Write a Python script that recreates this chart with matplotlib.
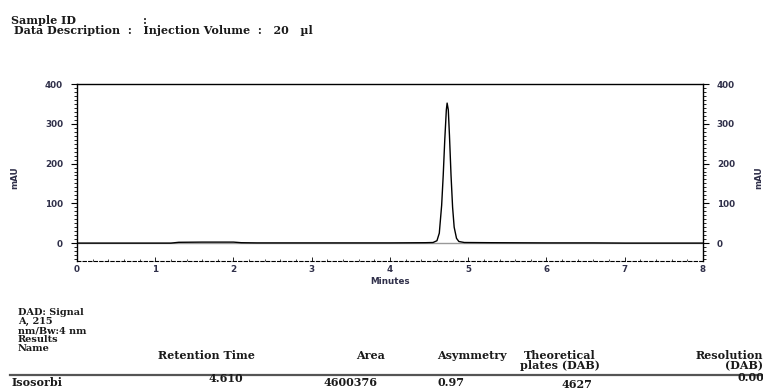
import matplotlib.pyplot as plt
from matplotlib.ticker import MultipleLocator

# chromatogram trace (minutes, mAU)
minutes = [0.0, 1.2, 1.3, 1.6, 2.0, 2.1, 2.3, 3.0, 4.0, 4.45, 4.55, 4.60, 4.63,
           4.66, 4.68, 4.70, 4.72, 4.73, 4.745, 4.76, 4.78, 4.80, 4.82, 4.85,
           4.88, 4.95, 5.3, 6.0, 6.6, 7.0, 8.0]
mau = [0.0, 0.0, 2.0, 2.5, 2.5, 1.0, 0.5, 0.5, 0.5, 1.0, 1.5, 6, 25,
       95, 170, 260, 335, 352, 335, 270, 170, 90, 40, 12,
       4, 1.5, 1.0, 0.5, 0.5, 0.0, 0.0]

y_ticks = [0, 100, 200, 300, 400]
x_ticks = [0, 1, 2, 3, 4, 5, 6, 7, 8]

# results table
info = ["DAD: Signal", "A, 215", "nm/Bw:4 nm", "Results", "Name"]
peak_name = "Isosorbi"
ret_time = "4.610"
area = "4600376"
asym = "0.97"
plates = "4627"
resol = "0.00"

W, H = 763, 391
fig = plt.figure(figsize=(W / 100, H / 100), dpi=100)

def px(x, y):
    return x / W, 1 - y / H

serif = dict(family="DejaVu Serif", fontweight="bold", color="#1a1a1a", fontsize=8.0)
serif_sm = dict(serif, fontsize=7.0)
tickfont = dict(family="DejaVu Sans", fontweight="bold", color="#30304a", fontsize=6.3)

# header
fig.text(*px(11, 24), "Sample ID", va="baseline", **serif)
fig.text(*px(143, 24), ":", va="baseline", **serif)
fig.text(*px(14, 34), "Data Description  :   Injection Volume  :   20   µl", va="baseline", **serif)

# chromatogram axes
ax = fig.add_axes([77 / W, 1 - 261 / H, (703 - 77) / W, (261 - 84) / H])
ax.axhline(0, color="#999999", lw=1.0, zorder=1)
ax.plot(minutes, mau, color="black", lw=1.0, zorder=2)
ax.set_xlim(0, 8)
ax.set_ylim(-45, 400)

ax.set_yticks(y_ticks)
ax.set_xticks(x_ticks)
ax.yaxis.set_minor_locator(MultipleLocator(10))
ax.xaxis.set_minor_locator(MultipleLocator(0.2))
ax.tick_params(axis="y", which="major", left=True, right=True, labelleft=True,
               labelright=True, length=4, width=0.8, direction="out", pad=6)
ax.tick_params(axis="y", which="minor", left=True, right=True, length=2,
               width=0.6, direction="out")
ax.tick_params(axis="x", which="major", length=3, width=0.6, direction="in", pad=3)
ax.tick_params(axis="x", which="minor", length=1.5, width=0.5, direction="in")
for lab in ax.get_xticklabels() + ax.get_yticklabels():
    lab.set_fontfamily(tickfont["family"])
    lab.set_fontweight("bold")
    lab.set_color(tickfont["color"])
    lab.set_fontsize(tickfont["fontsize"])

for s in ["left", "right", "top"]:
    ax.spines[s].set_linewidth(1.0)
ax.spines["bottom"].set_linestyle((0, (3, 2)))
ax.spines["bottom"].set_linewidth(0.8)

ax.set_xlabel("Minutes", labelpad=2, **tickfont)
fig.text(*px(15, 178), "mAU", rotation=90, ha="center", va="center", **tickfont)
fig.text(*px(763, 178), "mAU", rotation=90, ha="right", va="center", **tickfont)

# signal info
for i, t in enumerate(info):
    fig.text(*px(18, 315 + i * 9), t, va="baseline", **serif_sm)

fig.text(*px(206, 359), "Retention Time", ha="center", va="baseline", **serif)
fig.text(*px(385, 359), "Area", ha="right", va="baseline", **serif)
fig.text(*px(472, 359), "Asymmetry", ha="center", va="baseline", **serif)
fig.text(*px(560, 359), "Theoretical", ha="center", va="baseline", **serif)
fig.text(*px(560, 369), "plates (DAB)", ha="center", va="baseline", **serif)
fig.text(*px(763, 359), "Resolution", ha="right", va="baseline", **serif)
fig.text(*px(763, 369), "(DAB)", ha="right", va="baseline", **serif)

fig.add_artist(plt.Line2D([10 / W, 1.0], [1 - 375 / H] * 2, color="#555555", lw=1.6))

fig.text(*px(12, 386), peak_name, va="baseline", **serif)
fig.text(*px(226, 382), ret_time, ha="center", va="baseline", **serif)
fig.text(*px(350, 386), area, ha="center", va="baseline", **serif)
fig.text(*px(437, 386), asym, ha="left", va="baseline", **serif)
fig.text(*px(577, 388), plates, ha="center", va="baseline", **serif)
fig.text(*px(764, 381), resol, ha="right", va="baseline", **serif)

fig.savefig("out.png", dpi=100)
